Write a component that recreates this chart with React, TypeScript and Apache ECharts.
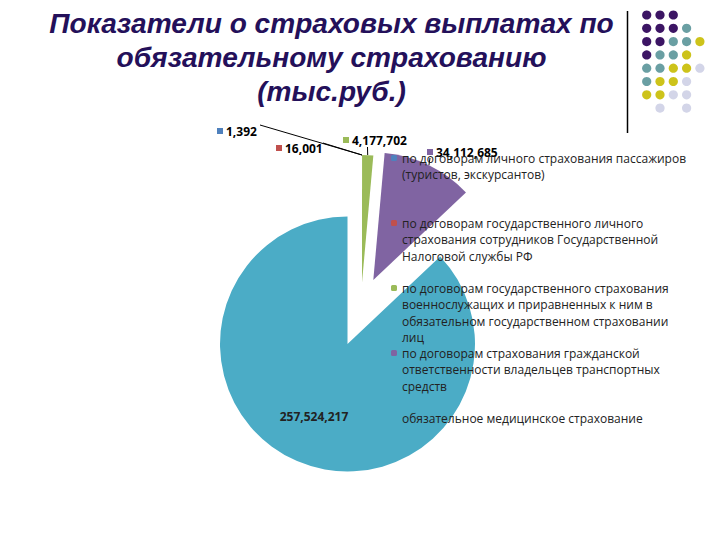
import React, { useEffect, useRef } from 'react';
import * as echarts from 'echarts';

const categories = [
  'по договорам личного страхования пассажиров (туристов, экскурсантов)',
  'по договорам государственного личного страхования сотрудников Государственной Налоговой службы РФ',
  'по договорам государственного страхования военнослужащих и приравненных к ним в обязательном государственном страховании лиц',
  'по договорам страхования гражданской ответственности владельцев транспортных средств',
  'обязательное медицинское страхование',
];
const values = [1392, 16001, 4177702, 34112685, 257524217];
const sliceColors = ['#4f81bd', '#c0504d', '#9bbb59', '#8064a2', '#4bacc6'];
const legendLines = [
  ['по договорам личного страхования пассажиров', '(туристов, экскурсантов)'],
  ['по договорам государственного личного', 'страхования сотрудников Государственной', 'Налоговой службы РФ'],
  ['по договорам государственного страхования', 'военнослужащих и приравненных к ним в', 'обязательном государственном страховании', 'лиц'],
  ['по договорам страхования гражданской', 'ответственности владельцев транспортных', 'средств'],
  ['обязательное медицинское страхование'],
];
const titleLines = ['Показатели о страховых выплатах по', 'обязательному страхованию', '(тыс.руб.)'];
const dotRows = ['PPP..', 'PPPT.', 'PPTTY', 'PTTY.', 'TTYYL', 'TYYL.', 'YYLL.', '.L.L.'];
const dotColors: Record<string, string> = { P: '#3c1564', T: '#6a9fa3', Y: '#cdc31a', L: '#d3d5e8' };

const PIE_R = 127.5;
const groups = [
  { center: [347.5, 344], items: [4] },
  { center: [362, 282.5], items: [0, 1, 2] },
  { center: [373.3, 280], items: [3] },
];
const labelPlaces: Record<number, { x: number; y: number; align: string; lineEnd?: number[] }> = {
  0: { x: 217, y: 131, align: 'left', lineEnd: [260, 125] },
  1: { x: 276, y: 148, align: 'left', lineEnd: [323, 143] },
  2: { x: 343, y: 140, align: 'left', lineEnd: [367.5, 147] },
  3: { x: 427, y: 152, align: 'left', lineEnd: [430, 158] },
  4: { x: 314, y: 416, align: 'center' },
};
const legendFirstLineY = [158, 223, 288, 353, 418];

export default function App() {
  const ref = useRef<HTMLDivElement>(null);
  useEffect(() => {
    const chart = echarts.init(ref.current!, null, { renderer: 'svg' });
    const fmt = (v: number) => v.toLocaleString('en-US');
    const LH = 16.6;

    const series = groups.map((g) => ({
      type: 'pie',
      center: g.center,
      radius: PIE_R,
      startAngle: 90,
      clockwise: true,
      avoidLabelOverlap: false,
      silent: true,
      emphasis: { disabled: true },
      data: categories.map((name, i) => {
        const visible = g.items.includes(i);
        return {
          name,
          value: values[i],
          itemStyle: { color: visible ? sliceColors[i] : 'rgba(0,0,0,0)' },
          label: visible
            ? {
                show: true,
                position: i === 4 ? 'inside' : 'outside',
                formatter: i === 4 ? `{v|${fmt(values[i])}}` : `{sq|}{v|${fmt(values[i])}}`,
                rich: {
                  sq: { width: 6, height: 6, backgroundColor: sliceColors[i] },
                  v: {
                    fontFamily: 'Open Sans',
                    fontWeight: 'bold',
                    fontSize: 12,
                    color: i === 4 ? '#222' : '#000',
                    padding: [0, 0, 0, i === 4 ? 0 : 3],
                  },
                },
              }
            : { show: false },
          labelLine: {
            show: visible && i !== 4,
            length: 5,
            length2: 5,
            lineStyle: { color: '#000', width: 1 },
          },
        };
      }),
      labelLayout: (params: any) => {
        const a = labelPlaces[params.dataIndex];
        if (!a) return {};
        const res: any = { x: a.x, y: a.y, align: a.align, verticalAlign: 'middle' };
        if (a.lineEnd && params.labelLinePoints) {
          const p0 = params.labelLinePoints[0];
          res.labelLinePoints = [[p0[0], p0[1]], [p0[0], p0[1]], a.lineEnd];
        }
        return res;
      },
    }));

    const legends = categories.map((name, i) => {
      const n = legendLines[i].length;
      return {
        orient: 'vertical',
        left: 391,
        top: legendFirstLineY[i] - ((2 * n - 1) * LH) / 2,
        padding: 0,
        itemWidth: 6,
        itemHeight: 6,
        selectedMode: false,
        data: [{ name, itemStyle: { color: i === 4 ? 'rgba(0,0,0,0)' : sliceColors[i], opacity: i === 4 ? 0 : 1 } }],
        formatter: () => '\n'.repeat(n - 1) + legendLines[i].join('\n'),
        textStyle: {
          fontFamily: 'Open Sans',
          fontSize: 12,
          color: '#222',
          lineHeight: LH,
        },
      };
    });

    const dots: any[] = [];
    dotRows.forEach((row, r) => {
      row.split('').forEach((ch, c) => {
        if (dotColors[ch]) {
          dots.push({
            type: 'circle',
            shape: { cx: 646.7 + 13.3 * c, cy: 15 + 13.3 * r, r: 4.6 },
            style: { fill: dotColors[ch] },
            silent: true,
          });
        }
      });
    });

    const option: any = {
      animation: false,
      backgroundColor: '#ffffff',
      legend: legends,
      series,
      graphic: [
        {
          type: 'text',
          x: 331.5,
          y: 7,
          scaleX: 1.04,
          silent: true,
          style: {
            text: titleLines.join('\n'),
            fill: '#24105a',
            fontFamily: 'Liberation Sans',
            fontSize: 27,
            fontWeight: 'bold',
            fontStyle: 'italic',
            lineHeight: 34,
            align: 'center',
            verticalAlign: 'top',
          },
        },
        {
          type: 'line',
          shape: { x1: 627.5, y1: 11, x2: 627.5, y2: 133 },
          style: { stroke: '#000', lineWidth: 1.5 },
          silent: true,
        },
        ...dots,
      ],
    };
    chart.setOption(option);
    return () => chart.dispose();
  }, []);
  return (
    <div
      ref={ref}
      style={{ position: 'fixed', left: 0, top: 0, width: 720, height: 540, background: '#fff' }}
    />
  );
}
